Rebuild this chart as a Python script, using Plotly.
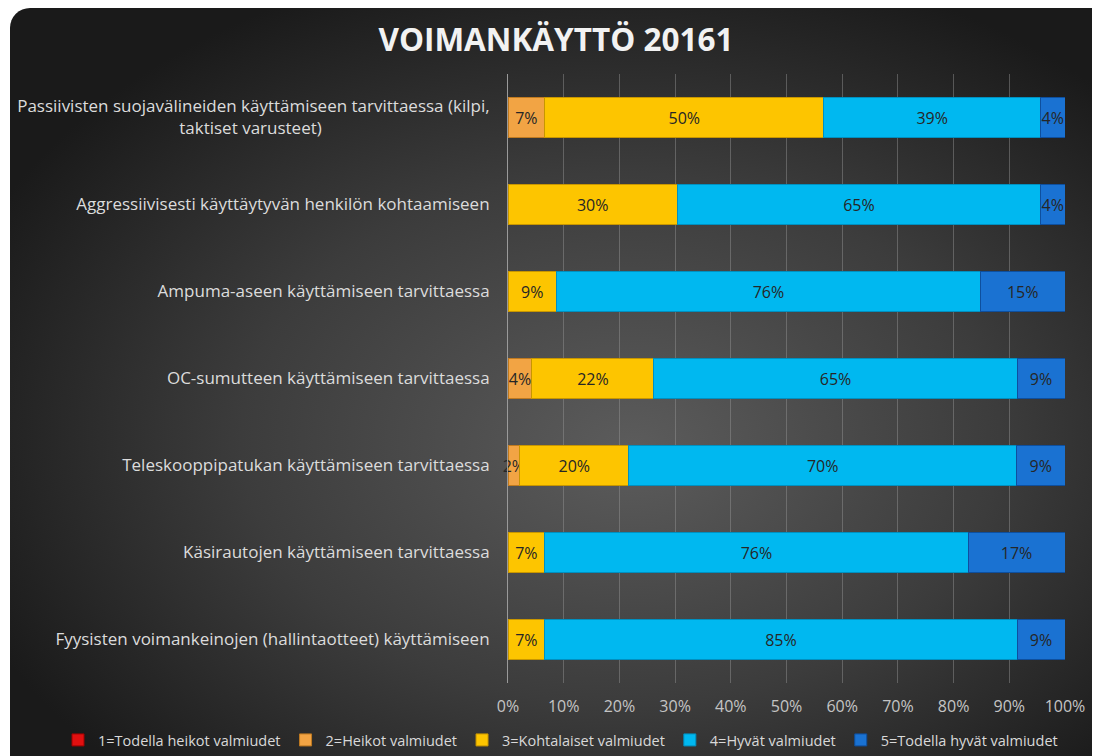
import base64
import plotly.graph_objects as go

categories = [
    "Passiivisten suojavälineiden käyttämiseen tarvittaessa (kilpi,\ntaktiset varusteet)",
    "Aggressiivisesti käyttäytyvän henkilön kohtaamiseen",
    "Ampuma-aseen käyttämiseen tarvittaessa",
    "OC-sumutteen käyttämiseen tarvittaessa",
    "Teleskooppipatukan käyttämiseen tarvittaessa",
    "Käsirautojen käyttämiseen tarvittaessa",
    "Fyysisten voimankeinojen (hallintaotteet) käyttämiseen",
]

series_names = [
    "1=Todella heikot valmiudet",
    "2=Heikot valmiudet",
    "3=Kohtalaiset valmiudet",
    "4=Hyvät valmiudet",
    "5=Todella hyvät valmiudet",
]

s1_todella_heikot = [0, 0, 0, 0, 0, 0, 0]
s2_heikot = [6.6, 0, 0, 4.3, 2.1, 0, 0]
s3_kohtalaiset = [50.1, 30.4, 8.7, 21.9, 19.6, 6.6, 6.6]
s4_hyvat = [38.9, 65.2, 76.1, 65.2, 69.6, 76.0, 84.8]
s5_todella_hyvat = [4.4, 4.4, 15.2, 8.6, 8.7, 17.4, 8.6]

x_ticks = [0, 10, 20, 30, 40, 50, 60, 70, 80, 90, 100]
x_tick_labels = ["0%", "10%", "20%", "30%", "40%", "50%", "60%", "70%", "80%", "90%", "100%"]

series_values = [s1_todella_heikot, s2_heikot, s3_kohtalaiset, s4_hyvat, s5_todella_hyvat]
colors = ["#e01010", "#f2a444", "#fdc500", "#00b8f0", "#1a72d2"]
edge = ["#a00000", "#c07a20", "#c89600", "#0090c0", "#0e4f9e"]


def tick_label(cat):
    # two-line label: centre the second line under the first with trailing spaces
    if "\n" in cat:
        a, b = cat.split("\n")
        pad = "\u00a0" * 38
        return a + "<br>" + b + pad
    return cat


W, H = 1092, 748
L, R, T, B = 500, 35, 66, 73
pw, ph = W - L - R, H - T - B

svg = f'''<svg xmlns="http://www.w3.org/2000/svg" width="{W}" height="{H}" viewBox="0 0 {W} {H}">
<defs><radialGradient id="g" cx="0.54" cy="0.54" r="0.62" fx="0.56" fy="0.57">
<stop offset="0" stop-color="#5c5c5c"/><stop offset="0.55" stop-color="#3c3c3c"/>
<stop offset="1" stop-color="#1a1a1a"/></radialGradient></defs>
<rect x="0" y="0" width="{W}" height="{H}" fill="#ffffff"/>
<rect x="2" y="0" width="{W+20}" height="{H+30}" rx="20" ry="20" fill="url(#g)"/>
</svg>'''
src = "data:image/svg+xml;base64," + base64.b64encode(svg.encode()).decode()

fig = go.Figure()
for name, vals, c, ec in zip(series_names, series_values, colors, edge):
    fig.add_trace(go.Bar(
        y=categories, x=vals, name=name, orientation="h",
        marker=dict(color=c, line=dict(color=ec, width=1)),
        text=[f"{round(v)}%" if v > 0 else "" for v in vals],
        textposition="inside", insidetextanchor="middle", textangle=0,
        constraintext="none", cliponaxis=False,
        textfont=dict(color="#262626", size=16, family="Open Sans"),
        hoverinfo="skip",
    ))

fig.update_layout(
    width=W, height=H,
    margin=dict(l=L, r=R, t=T, b=B, autoexpand=False),
    barmode="stack", bargap=0.55,
    paper_bgcolor="#ffffff", plot_bgcolor="rgba(0,0,0,0)",
    font=dict(family="Open Sans", color="#d9d9d9", size=15),
    title=dict(text="<b>VOIMANKÄYTTÖ 20161</b>", x=548 / W, xanchor="center",
               y=1 - 32 / H, yanchor="middle",
               font=dict(family="Open Sans", size=31.5, color="#f2f2f2")),
    uniformtext=dict(minsize=16, mode="show"),
    images=[dict(source=src, xref="paper", yref="paper",
                 x=-L / pw, y=1 + T / ph, sizex=W / pw, sizey=H / ph,
                 xanchor="left", yanchor="top", sizing="stretch", layer="below")],
    legend=dict(orientation="h", traceorder="normal",
                xref="paper", yref="paper",
                x=(50 - L) / pw, xanchor="left", y=(H - B - 732) / ph, yanchor="middle",
                font=dict(size=14.5, color="#d9d9d9", family="Open Sans"),
                itemwidth=30, bgcolor="rgba(0,0,0,0)"),
    showlegend=True,
)
fig.update_xaxes(range=[0, 100], tickmode="array", tickvals=x_ticks, ticktext=x_tick_labels,
                 showgrid=True, gridcolor="rgba(150,150,150,0.45)", gridwidth=1,
                 zeroline=False, showline=False, ticks="", automargin=False,
                 ticklabelstandoff=12,
                 tickfont=dict(size=16, color="#c4c4c4"))
fig.update_yaxes(categoryorder="array", categoryarray=categories, autorange="reversed",
                 tickmode="array", tickvals=categories, ticktext=[tick_label(c) for c in categories],
                 showline=True, linecolor="#9a9a9a", linewidth=1, ticks="", automargin=False,
                 showgrid=False, ticklabelstandoff=14,
                 tickfont=dict(size=17, color="#dcdcdc"))

fig.write_html("out.html")
